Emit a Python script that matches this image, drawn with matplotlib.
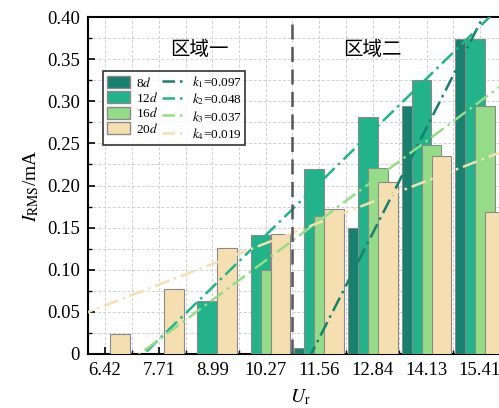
import numpy as np
import matplotlib
matplotlib.use('Agg')
import matplotlib.pyplot as plt
from matplotlib.patches import Patch
from matplotlib.lines import Line2D

plt.rcParams['font.family'] = ['Liberation Serif', 'Noto Sans CJK SC']
plt.rcParams['mathtext.fontset'] = 'stix'

ur = np.array([6.42, 7.71, 8.99, 10.27, 11.56, 12.84, 14.13, 15.41])
ur_labels = ['6.42', '7.71', '8.99', '10.27', '11.56', '12.84', '14.13', '15.41']

i_8d = [0, 0, 0, 0, 0.007, 0.149, 0.294, 0.374]
i_12d = [0, 0, 0.063, 0.141, 0.219, 0.281, 0.325, 0.374]
i_16d = [0, 0, 0, 0.100, 0.164, 0.221, 0.248, 0.294]
i_20d = [0.024, 0.077, 0.126, 0.143, 0.172, 0.204, 0.235, 0.169]

series = [i_8d, i_12d, i_16d, i_20d]
names = ['8$d$', '12$d$', '16$d$', '20$d$']
k_names = ['$k_1$', '$k_2$', '$k_3$', '$k_4$']
colors = ['#17806e', '#22b38a', '#95dc88', '#f5dfb0']

fig = plt.figure(figsize=(4.99, 4.08), dpi=100)
# the axes run past the right edge, as in the cropped original
ax = fig.add_axes([88 / 499, 1 - 354 / 408, 425 / 499, 337 / 408])

step = 1.284
offsets = np.array([-1.5, -0.5, 0.5, 1.5]) * 0.187 * step
width = 0.37 * step

for vals, off, c in zip(series, offsets, colors):
    ax.bar(ur + off, vals, width=width, color=c, edgecolor='#8a8a8a',
           linewidth=0.8, zorder=3)

xx = np.linspace(ur[0] - 0.5 * step, ur[-1] + 0.5 * step, 50)
slopes = []
for vals, c in zip(series, colors):
    v = np.array(vals)
    m = v > 0
    k, b = np.polyfit(ur[m], v[m], 1)
    slopes.append(k)
    ax.plot(xx, k * xx + b, color=c, lw=1.8, ls=(0, (6, 2, 1, 2)), zorder=4)

ax.axvline((ur[3] + ur[4]) / 2, color='#555555', lw=1.8, ls=(0, (6, 3)), zorder=5)

ax.text((ur[1] + ur[2]) / 2 + 0.34, 0.362, '区域一', fontsize=14,
        family='Noto Sans CJK SC', ha='center', va='center')
ax.text((ur[5]), 0.362, '区域二', fontsize=14,
        family='Noto Sans CJK SC', ha='center', va='center')

ax.set_xlim(ur[0] - 0.318 * step, ur[0] + 7.62 * step)
ax.set_ylim(0, 0.40)
ax.set_xticks(ur)
ax.set_xticklabels(ur_labels)
ax.set_xticks(ur[:-1] + step / 2, minor=True)
ax.set_yticks(np.arange(0, 0.401, 0.05))
ax.set_yticklabels(['0'] + ['%.2f' % v for v in np.arange(0.05, 0.401, 0.05)])
ax.set_yticks(np.arange(0.025, 0.4, 0.05), minor=True)
ax.tick_params(which='both', direction='in', labelsize=13.5)
ax.tick_params(which='major', length=5, width=1.2, pad=6)
ax.tick_params(which='minor', length=3, width=1)
ax.grid(which='both', color='#d0d0d0', ls=(0, (3, 2)), lw=0.7, zorder=0)
for s in ax.spines.values():
    s.set_linewidth(1.5)

ax.set_ylabel(r'$I_{\mathrm{RMS}}$/mA', fontsize=14, labelpad=4)
ax.set_xlabel(r'$U_{\mathrm{r}}$', fontsize=14, labelpad=6)

handles = [Patch(facecolor=c, edgecolor='#8a8a8a') for c in colors]
labels = list(names)
for kn, k, c in zip(k_names, slopes, colors):
    handles.append(Line2D([], [], color=c, lw=1.8, ls=(0, (5, 2, 1, 2))))
    labels.append('%s=%.3f' % (kn, k))
leg = ax.legend(handles, labels, ncol=2, loc='upper left',
                bbox_to_anchor=(0.036, 0.839), fontsize=9.5, frameon=True,
                fancybox=False, edgecolor='black', handlelength=1.8,
                handleheight=1.05, columnspacing=0.35, labelspacing=0.1,
                borderpad=0.25, handletextpad=0.4, borderaxespad=0)
leg.get_frame().set_linewidth(1.2)
leg.set_zorder(10)

fig.savefig('out.png', dpi=100)
